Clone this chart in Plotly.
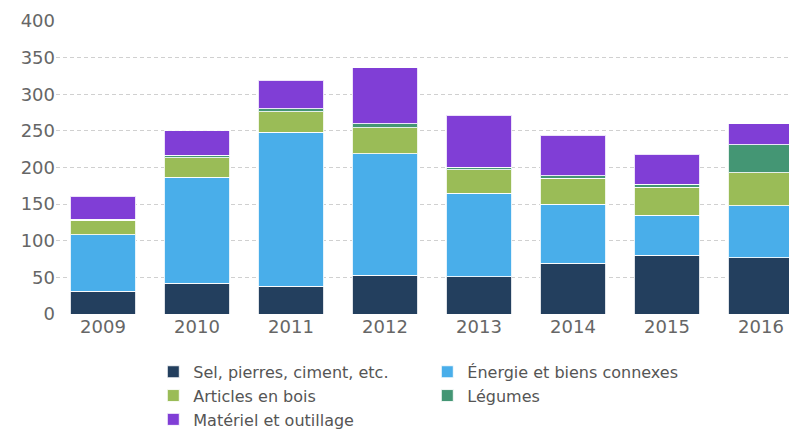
import plotly.graph_objects as go

years = ["2009", "2010", "2011", "2012", "2013", "2014", "2015", "2016"]
sel = [31, 42, 38, 53, 51, 69, 80, 77]
energie = [77, 145, 210, 166, 114, 81, 55, 71]
bois = [20, 26, 28, 35, 32, 35, 38, 45]
legumes = [1.5, 4, 4, 6, 3.5, 4, 4, 38]
materiel = [31, 33, 39, 76, 71, 55, 41, 29]

series = [
    ("Sel, pierres, ciment, etc.", sel, "#233f5e"),
    ("Énergie et biens connexes", energie, "#49aeea"),
    ("Articles en bois", bois, "#9abc57"),
    ("Légumes", legumes, "#449674"),
    ("Matériel et outillage", materiel, "#803ed6"),
]

fig = go.Figure()
for name, vals, col in series:
    fig.add_trace(go.Bar(
        x=years, y=vals, name=name,
        marker=dict(color=col, line=dict(color="rgba(255,255,255,0.85)", width=1)),
        width=0.70,
    ))

fig.update_layout(
    barmode="stack",
    width=789, height=423,
    margin=dict(l=48, r=0, t=13, b=117),
    plot_bgcolor="white", paper_bgcolor="white",
    font=dict(family="DejaVu Sans", size=18, color="#666666"),
    xaxis=dict(
        type="category", range=[-0.5, 7.383],
        showgrid=False, zeroline=False, showline=False,
        ticks="", tickfont=dict(size=18, color="#666666"),
    ),
    yaxis=dict(
        range=[0, 400], dtick=50,
        showgrid=True, gridcolor="#d0d0d0", griddash="4px,3px", gridwidth=1,
        zeroline=False, showline=False, ticks="",
        tickfont=dict(size=18, color="#666666"),
    ),
    legend=dict(
        orientation="h", x=0.1313, xanchor="left",
        yref="container", y=0.18, yanchor="top",
        entrywidth=229, entrywidthmode="pixels",
        font=dict(size=16, color="#555555"),
        traceorder="normal", itemwidth=30,
    ),
    bargap=0.3,
)

fig.write_html("out.html")
